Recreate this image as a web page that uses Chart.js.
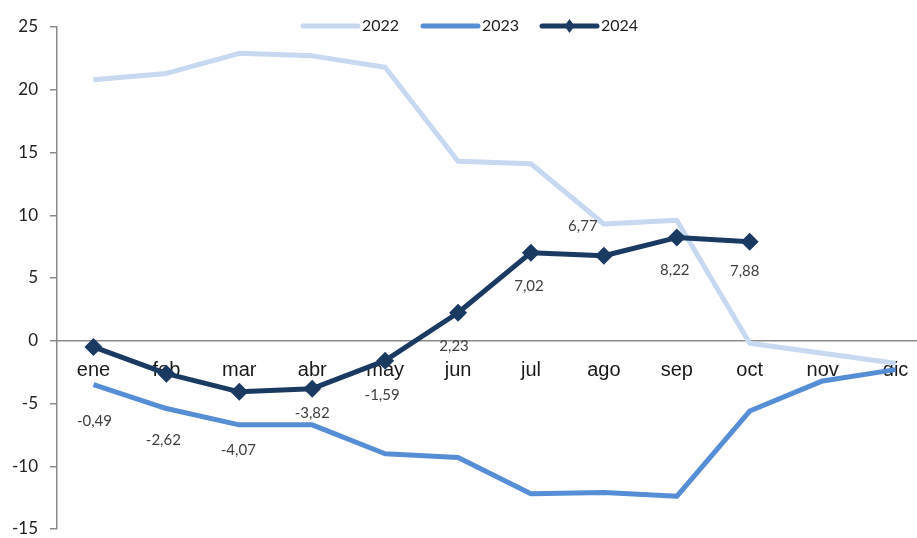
<!DOCTYPE html>
<html>
<head>
<meta charset="utf-8">
<script src="https://cdn.jsdelivr.net/npm/chart.js@4"></script>
<style>
  html, body { margin: 0; padding: 0; overflow: hidden; background: #fff; }
  #wrap { position: absolute; left: 0; top: 0; width: 941px; height: 538px; }
</style>
</head>
<body>
<div id="wrap"><canvas id="chartCanvas"></canvas></div>
<script>
const months = ['ene', 'feb', 'mar', 'abr', 'may', 'jun', 'jul', 'ago', 'sep', 'oct', 'nov', 'dic'];
const serie2022 = [20.8, 21.3, 22.9, 22.7, 21.8, 14.3, 14.1, 9.3, 9.6, -0.2, -1.0, -1.8];
const serie2023 = [-3.5, -5.4, -6.7, -6.7, -9.0, -9.3, -12.2, -12.1, -12.4, -5.6, -3.2, -2.3];
const serie2024 = [-0.49, -2.62, -4.07, -3.82, -1.59, 2.23, 7.02, 6.77, 8.22, 7.88];
const yTicks = [-15, -10, -5, 0, 5, 10, 15, 20, 25];

// posicion de las etiquetas de 2024 respecto al punto (px)
const labelOffsets = [[1, 74], [-3, 67], [-1, 58], [0, 24], [-3, 34], [-4, 33], [-2, 34], [-21, -30], [-2, 33], [-5, 29]];

const ctx = document.getElementById('chartCanvas').getContext('2d');

const dataLabels = {
  id: 'dataLabels',
  afterDatasetsDraw(chart) {
    const meta = chart.getDatasetMeta(2);
    const c = chart.ctx;
    c.save();
    c.font = '15px Lato';
    c.fillStyle = '#404040';
    c.textAlign = 'center';
    c.textBaseline = 'middle';
    meta.data.forEach((pt, i) => {
      const txt = serie2024[i].toFixed(2).replace('.', ',');
      const off = labelOffsets[i];
      c.fillText(txt, pt.x + off[0], pt.y + off[1]);
    });
    c.restore();
  }
};

const topLegend = {
  id: 'topLegend',
  afterDraw(chart) {
    const c = chart.ctx;
    const items = [
      { x: 303, ds: chart.data.datasets[0] },
      { x: 423, ds: chart.data.datasets[1] },
      { x: 542, ds: chart.data.datasets[2] }
    ];
    const y = 26;
    c.save();
    items.forEach(it => {
      c.strokeStyle = it.ds.borderColor;
      c.lineWidth = 5;
      c.lineCap = 'round';
      c.beginPath();
      c.moveTo(it.x, y);
      c.lineTo(it.x + 55, y);
      c.stroke();
      if (it.ds.pointRadius > 0) {
        const cx = it.x + 27.5;
        c.fillStyle = it.ds.borderColor;
        c.beginPath();
        c.moveTo(cx, y - 7);
        c.lineTo(cx + 5, y);
        c.lineTo(cx, y + 7);
        c.lineTo(cx - 5, y);
        c.closePath();
        c.fill();
      }
      c.fillStyle = '#222';
      c.font = '16px Lato';
      c.textAlign = 'left';
      c.textBaseline = 'middle';
      c.fillText(it.ds.label, it.x + 59, y);
    });
    c.restore();
  }
};

const chart = new Chart(ctx, {
  type: 'line',
  data: {
    labels: months,
    datasets: [
      {
        label: '2022',
        data: serie2022,
        borderColor: '#c6d9f0',
        borderWidth: 5,
        pointRadius: 0,
        borderJoinStyle: 'round',
        tension: 0,
        order: 3
      },
      {
        label: '2023',
        data: serie2023,
        borderColor: '#558ed5',
        borderWidth: 5,
        pointRadius: 0,
        borderJoinStyle: 'round',
        tension: 0,
        order: 2
      },
      {
        label: '2024',
        data: serie2024,
        borderColor: '#1b3a62',
        backgroundColor: '#1b3a62',
        borderWidth: 5,
        pointStyle: 'rectRot',
        pointRadius: 9,
        pointBorderWidth: 0,
        borderJoinStyle: 'round',
        tension: 0,
        order: 1
      }
    ]
  },
  options: {
    responsive: true,
    maintainAspectRatio: false,
    animation: false,
    layout: { padding: { top: 27, bottom: 7, left: 0, right: 0 } },
    plugins: {
      legend: { display: false },
      tooltip: { enabled: false }
    },
    scales: {
      x: {
        position: { y: 0 },
        offset: true,
        grid: { display: false },
        border: { color: '#8a8a8a', width: 1.5 },
        ticks: {
          color: '#1a1a1a',
          font: { family: 'Liberation Sans', size: 20 },
          padding: 10,
          maxRotation: 0,
          autoSkip: false
        },
        afterFit(scale) {
          scale.height = 0;
          scale.paddingLeft = 0;
          scale.paddingRight = 0;
        }
      },
      y: {
        min: -15,
        max: 25,
        afterBuildTicks(scale) { scale.ticks = yTicks.map(v => ({ value: v })); },
        grid: { drawOnChartArea: false, drawTicks: true, tickLength: 7, color: '#8a8a8a', lineWidth: 1.5 },
        border: { color: '#8a8a8a', width: 1.5 },
        ticks: {
          color: '#222',
          font: { family: 'Lato', size: 17 },
          padding: 12
        },
        afterFit(scale) {
          scale.width = 57;
          scale.paddingTop = 0;
          scale.paddingBottom = 0;
        }
      }
    }
  },
  plugins: [dataLabels, topLegend]
});
</script>
</body>
</html>
